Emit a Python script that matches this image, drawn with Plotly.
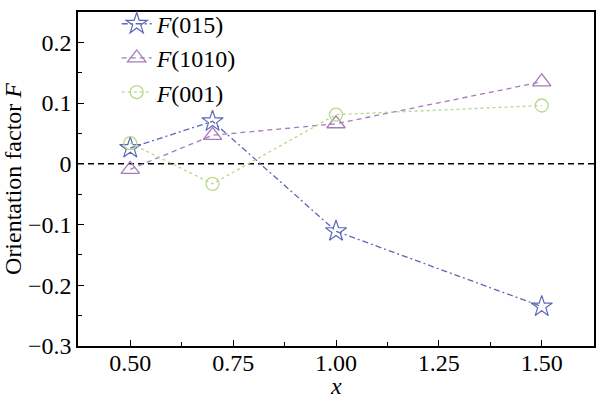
import plotly.graph_objects as go

x_vals = [0.5, 0.7, 1.0, 1.5]
f015 = [0.026, 0.070, -0.111, -0.235]
f1010 = [-0.009, 0.047, 0.066, 0.135]
f001 = [0.034, -0.033, 0.081, 0.096]

x_ticks = [0.50, 0.75, 1.00, 1.25, 1.50]
x_tick_labels = ["0.50", "0.75", "1.00", "1.25", "1.50"]
y_ticks = [-0.3, -0.2, -0.1, 0, 0.1, 0.2]
y_tick_labels = ["\u22120.3", "\u22120.2", "\u22120.1", "0", "0.1", "0.2"]
x_title = "<i>x</i>"
y_title = "Orientation factor <i>F</i>"

FONT = "Liberation Serif, Times New Roman, serif"
FS = 24
blue = "#5b68b8"
purple = "#a47bbb"
green = "#b6da8a"

fig = go.Figure()
fig.add_trace(go.Scatter(
    x=x_vals, y=f015, mode="lines+markers", name="<i>F</i>(015)",
    line=dict(color=blue, width=1.3, dash="6px,3px,2px,3px"),
    marker=dict(symbol="star-open", size=16, color=blue, line=dict(width=1.2)),
))
fig.add_trace(go.Scatter(
    x=x_vals, y=f1010, mode="lines+markers", name="<i>F</i>(1010)",
    line=dict(color=purple, width=1.3, dash="5px,4px"),
    marker=dict(symbol="triangle-up-open", size=16, color=purple, line=dict(width=1.3)),
))
fig.add_trace(go.Scatter(
    x=x_vals, y=f001, mode="lines+markers", name="<i>F</i>(001)",
    line=dict(color=green, width=1.3, dash="3px,3px"),
    marker=dict(symbol="circle-open", size=13, color=green, line=dict(width=1.3)),
))

fig.add_shape(type="line", xref="paper", x0=0, x1=1, yref="y", y0=0, y1=0,
              line=dict(color="black", width=1.5, dash="6px,4px"), layer="below")

axis_common = dict(
    showline=True, linecolor="black", linewidth=1.5, mirror=True,
    ticks="inside", ticklen=6, tickwidth=1.2, tickcolor="black",
    showgrid=False, zeroline=False, automargin=False,
    tickfont=dict(family=FONT, size=FS, color="black"),
)

fig.update_xaxes(
    range=[0.373, 1.627], tickvals=x_ticks, ticktext=x_tick_labels,
    minor=dict(ticks="inside", ticklen=4, tickwidth=1.2, tickcolor="black", dtick=0.125, tick0=0.375),
    ticklabelstandoff=-6,
    **axis_common,
)
fig.update_yaxes(
    range=[-0.3, 0.25], tickvals=y_ticks, ticktext=y_tick_labels,
    minor=dict(ticks="inside", ticklen=4, tickwidth=1.2, tickcolor="black", dtick=0.05, tick0=0.05),
    title=dict(text=y_title, font=dict(family=FONT, size=FS, color="black"), standoff=0),
    **axis_common,
)

fig.add_annotation(text=x_title, xref="paper", yref="paper", x=0.5, y=-0.12,
                   xanchor="center", yanchor="middle", showarrow=False,
                   font=dict(family=FONT, size=FS, color="black"))

fig.update_layout(
    width=596, height=397,
    margin=dict(l=78, r=2, t=2, b=51),
    plot_bgcolor="white", paper_bgcolor="white",
    font=dict(family=FONT, size=FS, color="black"),
    legend=dict(x=0.075, y=1.031, xanchor="left", yanchor="top",
                bgcolor="rgba(0,0,0,0)", font=dict(family=FONT, size=FS, color="black"),
                tracegroupgap=0, itemwidth=30),
    showlegend=True,
)

fig.write_html("out.html", post_script="document.body.style.margin='0';",
               config={"displayModeBar": False})
